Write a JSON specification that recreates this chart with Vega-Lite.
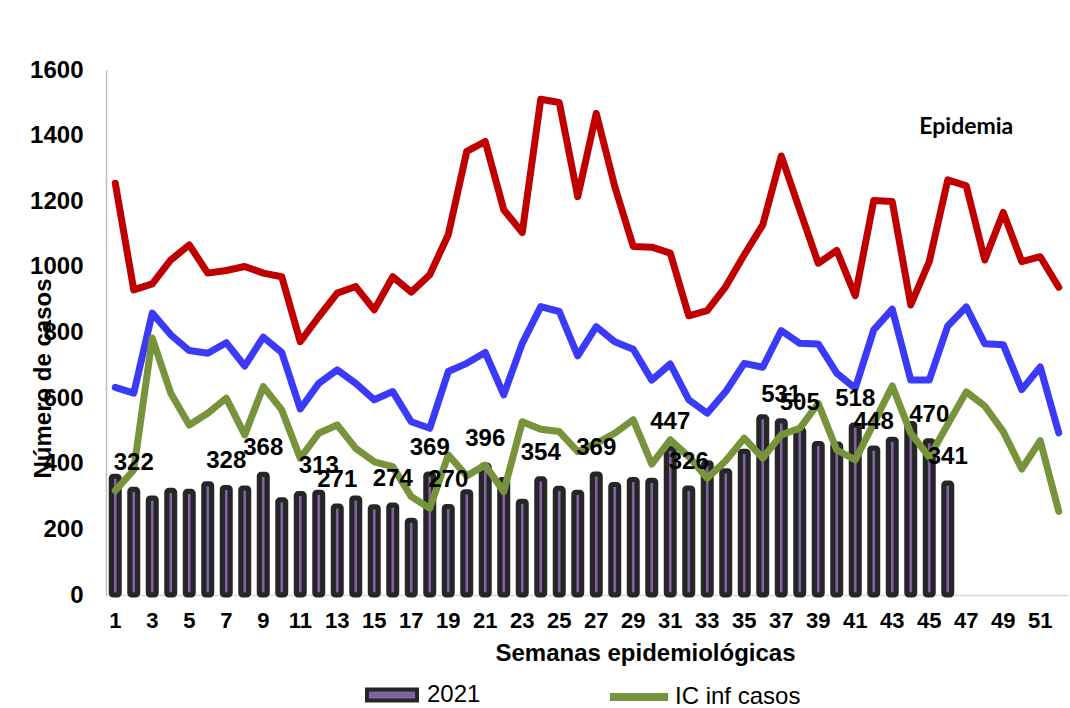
{
  "$schema": "https://vega.github.io/schema/vega-lite/v6.json",
  "autosize": "none",
  "width": 962,
  "height": 525,
  "padding": {"left": 106, "top": 70, "right": 2, "bottom": 113},
  "background": "white",
  "config": {
    "font": "Liberation Sans",
    "view": {"stroke": null},
    "axis": {"labelColor": "#000000", "titleColor": "#000000", "grid": false, "ticks": false}
  },
  "data": {
    "values": [
      {"week": 1, "casos": 362, "sup": 1255, "med": 633, "inf": 318, "label": null},
      {"week": 2, "casos": 322, "sup": 930, "med": 615, "inf": 381, "label": "322"},
      {"week": 3, "casos": 296, "sup": 948, "med": 859, "inf": 783, "label": null},
      {"week": 4, "casos": 319, "sup": 1021, "med": 793, "inf": 615, "label": null},
      {"week": 5, "casos": 316, "sup": 1067, "med": 745, "inf": 518, "label": null},
      {"week": 6, "casos": 339, "sup": 981, "med": 737, "inf": 554, "label": null},
      {"week": 7, "casos": 328, "sup": 989, "med": 769, "inf": 600, "label": "328"},
      {"week": 8, "casos": 326, "sup": 1001, "med": 698, "inf": 488, "label": null},
      {"week": 9, "casos": 368, "sup": 981, "med": 786, "inf": 635, "label": "368"},
      {"week": 10, "casos": 290, "sup": 970, "med": 739, "inf": 564, "label": null},
      {"week": 11, "casos": 309, "sup": 772, "med": 567, "inf": 417, "label": null},
      {"week": 12, "casos": 313, "sup": 848, "med": 645, "inf": 493, "label": "313"},
      {"week": 13, "casos": 271, "sup": 920, "med": 686, "inf": 518, "label": "271"},
      {"week": 14, "casos": 296, "sup": 940, "med": 645, "inf": 447, "label": null},
      {"week": 15, "casos": 269, "sup": 869, "med": 595, "inf": 406, "label": null},
      {"week": 16, "casos": 274, "sup": 970, "med": 620, "inf": 391, "label": "274"},
      {"week": 17, "casos": 228, "sup": 923, "med": 528, "inf": 300, "label": null},
      {"week": 18, "casos": 369, "sup": 976, "med": 508, "inf": 264, "label": "369"},
      {"week": 19, "casos": 270, "sup": 1098, "med": 681, "inf": 427, "label": "270"},
      {"week": 20, "casos": 315, "sup": 1352, "med": 706, "inf": 363, "label": null},
      {"week": 21, "casos": 396, "sup": 1382, "med": 739, "inf": 396, "label": "396"},
      {"week": 22, "casos": 352, "sup": 1174, "med": 610, "inf": 315, "label": null},
      {"week": 23, "casos": 286, "sup": 1105, "med": 767, "inf": 528, "label": null},
      {"week": 24, "casos": 354, "sup": 1511, "med": 879, "inf": 505, "label": "354"},
      {"week": 25, "casos": 325, "sup": 1501, "med": 864, "inf": 498, "label": null},
      {"week": 26, "casos": 313, "sup": 1214, "med": 729, "inf": 437, "label": null},
      {"week": 27, "casos": 369, "sup": 1468, "med": 818, "inf": 462, "label": "369"},
      {"week": 28, "casos": 337, "sup": 1245, "med": 772, "inf": 493, "label": null},
      {"week": 29, "casos": 352, "sup": 1062, "med": 749, "inf": 534, "label": null},
      {"week": 30, "casos": 350, "sup": 1060, "med": 655, "inf": 399, "label": null},
      {"week": 31, "casos": 447, "sup": 1042, "med": 704, "inf": 473, "label": "447"},
      {"week": 32, "casos": 326, "sup": 851, "med": 595, "inf": 422, "label": "326"},
      {"week": 33, "casos": 403, "sup": 867, "med": 554, "inf": 356, "label": null},
      {"week": 34, "casos": 379, "sup": 940, "med": 620, "inf": 409, "label": null},
      {"week": 35, "casos": 438, "sup": 1037, "med": 706, "inf": 478, "label": null},
      {"week": 36, "casos": 543, "sup": 1128, "med": 694, "inf": 417, "label": null},
      {"week": 37, "casos": 531, "sup": 1338, "med": 806, "inf": 488, "label": "531"},
      {"week": 38, "casos": 505, "sup": 1174, "med": 767, "inf": 508, "label": "505"},
      {"week": 39, "casos": 462, "sup": 1011, "med": 765, "inf": 584, "label": null},
      {"week": 40, "casos": 460, "sup": 1050, "med": 676, "inf": 442, "label": null},
      {"week": 41, "casos": 518, "sup": 912, "med": 630, "inf": 412, "label": "518"},
      {"week": 42, "casos": 448, "sup": 1202, "med": 808, "inf": 523, "label": "448"},
      {"week": 43, "casos": 475, "sup": 1199, "med": 871, "inf": 637, "label": null},
      {"week": 44, "casos": 523, "sup": 884, "med": 655, "inf": 493, "label": null},
      {"week": 45, "casos": 470, "sup": 1016, "med": 655, "inf": 420, "label": "470"},
      {"week": 46, "casos": 341, "sup": 1265, "med": 820, "inf": 520, "label": "341"},
      {"week": 47, "casos": null, "sup": 1247, "med": 878, "inf": 619, "label": null},
      {"week": 48, "casos": null, "sup": 1021, "med": 766, "inf": 576, "label": null},
      {"week": 49, "casos": null, "sup": 1166, "med": 763, "inf": 498, "label": null},
      {"week": 50, "casos": null, "sup": 1016, "med": 626, "inf": 384, "label": null},
      {"week": 51, "casos": null, "sup": 1031, "med": 695, "inf": 470, "label": null},
      {"week": 52, "casos": null, "sup": 938, "med": 494, "inf": 255, "label": null}
    ]
  },
  "encoding": {
    "x": {
      "field": "week",
      "type": "ordinal",
      "scale": {"type": "band", "paddingInner": 0, "paddingOuter": 0},
      "axis": {
        "values": [1, 3, 5, 7, 9, 11, 13, 15, 17, 19, 21, 23, 25, 27, 29, 31, 33, 35, 37, 39, 41, 43, 45, 47, 49, 51],
        "labelAngle": 0,
        "labelFontSize": 22,
        "labelFontWeight": "bold",
        "labelPadding": 15,
        "domainColor": "#D9D9D9",
        "domainWidth": 1.5,
        "title": "Semanas epidemiológicas",
        "titleFontSize": 24,
        "titleFontWeight": "bold",
        "titleX": 539,
        "titleY": 65,
        "titleAlign": "center",
        "titleBaseline": "alphabetic"
      }
    }
  },
  "layer": [
    {
      "transform": [{"filter": "datum.casos != null"}],
      "mark": {"type": "bar", "width": 8, "stroke": "#262626", "strokeWidth": 5, "strokeJoin": "round", "cornerRadius": 2},
      "encoding": {
        "y": {
          "field": "casos",
          "type": "quantitative",
          "scale": {"domain": [0, 1600], "nice": false},
          "axis": {
            "values": [0, 200, 400, 600, 800, 1000, 1200, 1400, 1600],
            "format": "d",
            "labelFontSize": 24,
            "labelFontWeight": "bold",
            "labelPadding": 23,
            "domainColor": "#BFBFBF",
            "domainWidth": 1.5,
            "title": "Número de casos",
            "titleFontSize": 24,
            "titleFontWeight": "bold",
            "titleX": -63,
            "titleY": 308,
            "titleAngle": 270,
            "titleAlign": "center",
            "titleBaseline": "middle"
          }
        },
        "fill": {
          "datum": "2021",
          "type": "nominal",
          "scale": {"range": ["#8064A2"]},
          "legend": {
            "orient": "none",
            "legendX": 259,
            "legendY": 598,
            "title": null,
            "symbolType": "M-1,-0.22H1V0.22H-1Z",
            "symbolSize": 2500,
            "symbolStrokeColor": "#262626",
            "symbolStrokeWidth": 4,
            "labelFontSize": 24,
            "labelColor": "#000000",
            "labelOffset": 8
          }
        }
      }
    },
    {
      "mark": {"type": "line", "color": "#C00000", "strokeWidth": 7, "strokeJoin": "round", "strokeCap": "round"},
      "encoding": {"y": {"field": "sup", "type": "quantitative"}}
    },
    {
      "mark": {"type": "line", "color": "#3A3AF8", "strokeWidth": 7, "strokeJoin": "round", "strokeCap": "round"},
      "encoding": {"y": {"field": "med", "type": "quantitative"}}
    },
    {
      "mark": {"type": "line", "strokeWidth": 7, "strokeJoin": "round", "strokeCap": "round"},
      "encoding": {
        "y": {"field": "inf", "type": "quantitative"},
        "stroke": {
          "datum": "IC inf casos",
          "type": "nominal",
          "scale": {"range": ["#77933C"]},
          "legend": {
            "orient": "none",
            "legendX": 500,
            "legendY": 594,
            "title": null,
            "symbolType": "stroke",
            "symbolSize": 3364,
            "symbolStrokeWidth": 8,
            "labelFontSize": 24,
            "labelColor": "#000000",
            "labelOffset": 3
          }
        }
      }
    },
    {
      "transform": [{"filter": "datum.label != null"}],
      "mark": {"type": "text", "fontSize": 24, "fontWeight": "bold", "color": "#000000", "baseline": "alphabetic", "dy": -19},
      "encoding": {
        "y": {"field": "casos", "type": "quantitative"},
        "text": {"field": "label"}
      }
    },
    {
      "data": {"values": [{"week": 47, "value": 1405, "t": "Epidemia"}]},
      "mark": {"type": "text", "font": "Lato", "fontSize": 23, "fontWeight": "bold", "color": "#000000", "baseline": "alphabetic", "align": "center"},
      "encoding": {
        "x": {"field": "week", "type": "ordinal"},
        "y": {"field": "value", "type": "quantitative"},
        "text": {"field": "t"}
      }
    }
  ]
}
